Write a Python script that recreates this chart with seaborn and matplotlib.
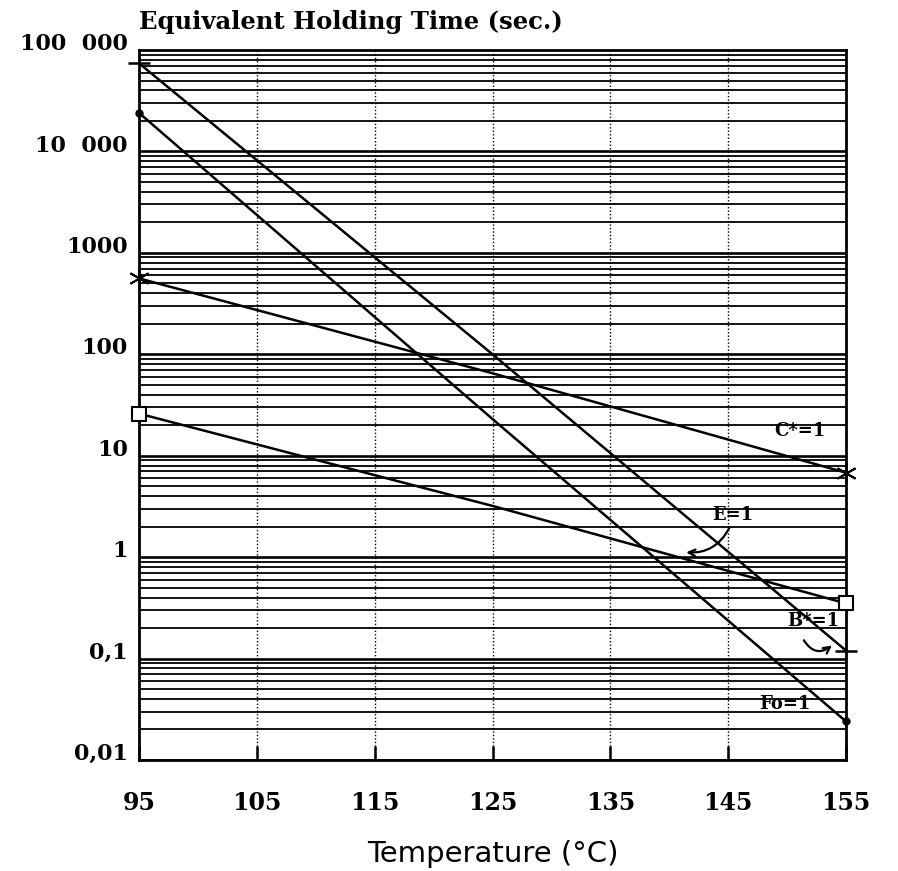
import numpy as np
import matplotlib
matplotlib.use("Agg")
import matplotlib.pyplot as plt
import matplotlib.transforms as mtransforms
from matplotlib.ticker import FixedLocator, LogLocator, NullFormatter
import seaborn as sns

# Data
temperature = [95, 125, 155]
b_star = [74000, 100, 0.12]
fo = [24000, 23, 0.024]
c_star = [560, 65, 6.8]
e_val = [26, 3.2, 0.35]

x_ticks = [95, 105, 115, 125, 135, 145, 155]
y_ticks = [0.01, 0.1, 1, 10, 100, 1000, 10000, 100000]
y_tick_labels = ["0,01", "0,1", "1", "10", "100", "1000", "10  000", "100  000"]

sns.set_theme(style="white")
plt.rcParams["font.family"] = ["DejaVu Serif"]
plt.rcParams["text.color"] = "black"
plt.rcParams["xtick.color"] = "black"
plt.rcParams["ytick.color"] = "black"
plt.rcParams["axes.labelcolor"] = "black"

fig = plt.figure(figsize=(8.98, 8.71), dpi=100)
ax = fig.add_axes([139 / 898, 1 - 760 / 871, (846 - 139) / 898, (760 - 50) / 871])
ax.set_yscale("log")
ax.set_xlim(95, 155)
ax.set_ylim(0.01, 100000)

# dense horizontal ruling: every 1..9 x decade
for dec in range(-2, 5):
    for m in range(1, 10):
        v = m * 10.0 ** dec
        ax.axhline(v, color="black", lw=1.9 if m == 1 else 1.3, zorder=1)
# dotted verticals
for t in x_ticks[1:-1]:
    ax.axvline(t, color="black", lw=1.0, ls=(0, (1, 1.5)), zorder=1)

line_kw = dict(color="black", lw=1.8, ax=ax, zorder=3, markeredgecolor="black",
               markevery=[0, -1], clip_on=False)
sns.lineplot(x=temperature, y=b_star, marker="_", markersize=16, mew=1.8, **line_kw)
sns.lineplot(x=temperature, y=fo, marker="o", markersize=5, mew=1.0,
             markerfacecolor="black", **line_kw)
sns.lineplot(x=temperature, y=c_star, marker=(6, 2, 0), markersize=15, mew=1.4, **line_kw)
sns.lineplot(x=temperature, y=e_val, marker="s", markersize=10, mew=1.5,
             markerfacecolor="white", **line_kw)

lab_kw = dict(fontsize=13, fontweight="bold", color="black", ha="center", va="center", zorder=5)
ax.text(151.1, 17.5, "C*=1", **lab_kw)
ax.text(145.4, 2.6, "E=1", **lab_kw)
ax.text(152.2, 0.235, "B*=1", **lab_kw)
ax.text(149.8, 0.036, "Fo=1", **lab_kw)
ax.annotate("", xy=(141.2, 1.12), xytext=(145.2, 2.05),
            arrowprops=dict(arrowstyle="->", color="black", lw=1.6,
                            connectionstyle="arc3,rad=-0.35"), zorder=5)
ax.annotate("", xy=(154.0, 0.14), xytext=(151.3, 0.16),
            arrowprops=dict(arrowstyle="->", color="black", lw=1.6,
                            connectionstyle="arc3,rad=0.6"), zorder=5)

# axes styling
for s in ax.spines.values():
    s.set_color("black")
    s.set_linewidth(2.0)
    s.set_visible(True)

ax.xaxis.set_major_locator(FixedLocator(x_ticks))
ax.set_xticklabels([str(t) for t in x_ticks], fontsize=17, fontweight="bold")
ax.tick_params(axis="x", direction="in", length=10, width=1.8, color="black",
               pad=22, bottom=True)
ax.yaxis.set_major_locator(FixedLocator(y_ticks))
ax.yaxis.set_minor_locator(LogLocator(subs=[]))
ax.yaxis.set_minor_formatter(NullFormatter())
ax.set_yticklabels(y_tick_labels, fontsize=16, fontweight="bold")
ax.tick_params(axis="y", which="both", length=0, pad=8, left=False)
shift = mtransforms.ScaledTranslation(0, 6 / 72, fig.dpi_scale_trans)
for lab in ax.get_yticklabels():
    lab.set_transform(lab.get_transform() + shift)

ax.set_xlabel("Temperature (°C)", fontsize=21, labelpad=18,
              family=["DejaVu Sans"])
ax.set_ylabel("")
fig.text(139 / 898, 1 - 22 / 871, "Equivalent Holding Time (sec.)",
         fontsize=17.5, fontweight="bold", ha="left", va="center")

fig.savefig("out.png", dpi=100, facecolor="white")
